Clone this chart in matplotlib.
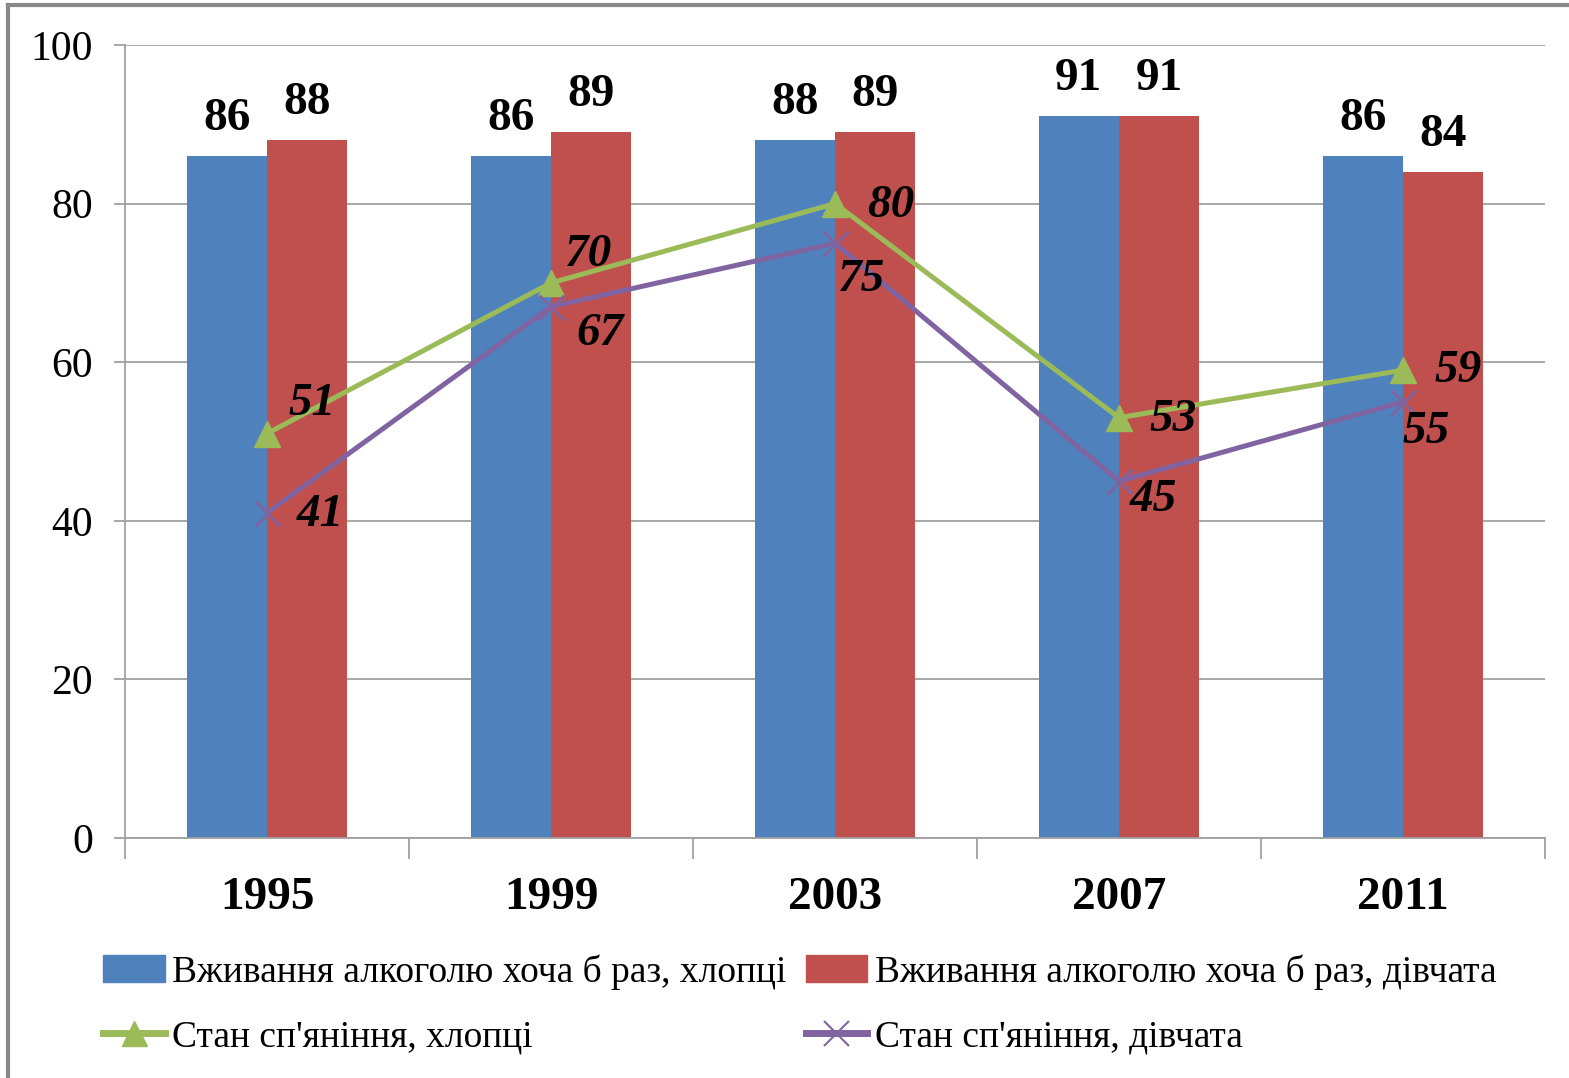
import numpy as np
import matplotlib.pyplot as plt
from matplotlib.lines import Line2D

plt.rcParams['font.family'] = ['Liberation Serif', 'DejaVu Serif']

years = ["1995", "1999", "2003", "2007", "2011"]
alc_boys = [86, 86, 88, 91, 86]
alc_girls = [88, 89, 89, 91, 84]
drunk_boys = [51, 70, 80, 53, 59]
drunk_girls = [41, 67, 75, 45, 55]

# label offsets in pixels (dx, dy up)
off_boys = [(45, 30), (37, 28), (56, -2), (54, -2), (55, -1)]
off_girls = [(53, -2), (49, -27), (26, -37), (34, -19), (23, -30)]

blue, red, green, purple = "#4F81BD", "#C0504D", "#9BBB59", "#8064A2"

fig = plt.figure(figsize=(15.69, 10.78), dpi=100)
ax = fig.add_axes([125/1569, 1-838/1078, 1420/1569, 793/1078])

x = np.arange(len(years))
w = 0.283
ax.bar(x - w/2, alc_boys, w, color=blue, zorder=2)
ax.bar(x + w/2, alc_girls, w, color=red, zorder=2)
ax.plot(x, drunk_boys, color=green, lw=3.6, marker='^', ms=19, zorder=3)
ax.plot(x, drunk_girls, color=purple, lw=3.6, marker='x', ms=18, mew=2, zorder=3)

for i in range(len(years)):
    ax.annotate(str(alc_boys[i]), (x[i] - w/2, alc_boys[i]), xytext=(0, 37),
                textcoords='offset pixels', ha='center', va='center',
                fontsize=34, fontweight='bold')
    ax.annotate(str(alc_girls[i]), (x[i] + w/2, alc_girls[i]), xytext=(0, 37),
                textcoords='offset pixels', ha='center', va='center',
                fontsize=34, fontweight='bold')
    ax.annotate(str(drunk_boys[i]), (x[i], drunk_boys[i]), xytext=off_boys[i],
                textcoords='offset pixels', ha='center', va='center',
                fontsize=34, fontweight='bold', fontstyle='italic', zorder=4)
    ax.annotate(str(drunk_girls[i]), (x[i], drunk_girls[i]), xytext=off_girls[i],
                textcoords='offset pixels', ha='center', va='center',
                fontsize=34, fontweight='bold', fontstyle='italic', zorder=4)

ax.set_xlim(-0.5, len(years) - 0.5)
ax.set_ylim(0, 100)
ax.set_yticks(range(0, 101, 20))
ax.yaxis.grid(True, color='#A0A0A0', lw=1.3, zorder=0)
ax.tick_params(axis='y', length=8, width=1.3, color='#A0A0A0', labelsize=30, pad=15)
ax.set_xticks(np.arange(-0.5, len(years)), minor=False)
ax.set_xticklabels([])
ax.set_xticks(x, minor=True)
ax.set_xticklabels(years, minor=True, fontsize=34, fontweight='bold')
ax.tick_params(axis='x', which='major', length=15, width=1.3, color='#A0A0A0')
ax.tick_params(axis='x', which='minor', length=0, pad=28)
for s in ['top', 'right']:
    ax.spines[s].set_visible(False)
for s in ['left', 'bottom']:
    ax.spines[s].set_color('#A0A0A0')
    ax.spines[s].set_linewidth(1.3)

h_blue = plt.Rectangle((0, 0), 1, 1, color=blue)
h_red = plt.Rectangle((0, 0), 1, 1, color=red)
h_green = Line2D([], [], color=green, lw=5, marker='^', ms=18)
h_purple = Line2D([], [], color=purple, lw=5, marker='x', ms=18, mew=1.5)
handles = [h_blue, h_green, h_red, h_purple]
labels = ["Вживання алкоголю хоча б раз, хлопці",
          "Стан сп'яніння, хлопці",
          "Вживання алкоголю хоча б раз, дівчата",
          "Стан сп'яніння, дівчата"]
fig.legend(handles, labels, ncol=2, loc='center left',
           bbox_to_anchor=(103/1569, 1-1004/1078), frameon=False,
           fontsize=27, handlelength=1.65, handleheight=0.7, handletextpad=0.2,
           columnspacing=0.5, labelspacing=0.8, borderaxespad=0, borderpad=0)

fig.add_artist(Line2D([8/1569, 8/1569], [0, 1-5/1078], color='#888888', lw=3,
                      transform=fig.transFigure))
fig.add_artist(Line2D([8/1569, 1], [1-5/1078, 1-5/1078], color='#888888', lw=3,
                      transform=fig.transFigure))

fig.savefig("out.png", dpi=100)
